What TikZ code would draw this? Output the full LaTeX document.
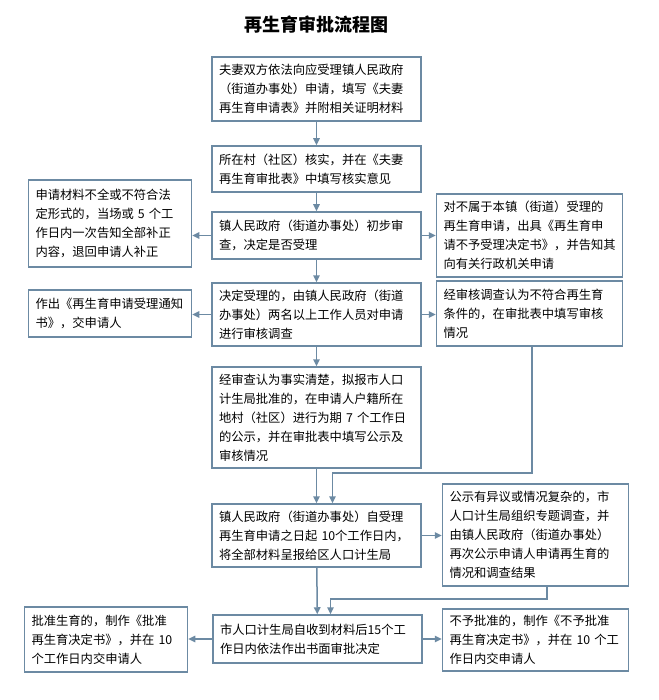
\documentclass[tikz,border=0pt]{standalone}
\usepackage{fontspec}
\setmainfont{Noto Sans CJK SC}
\usetikzlibrary{arrows.meta,positioning,calc}
\definecolor{boxline}{RGB}{108,138,163}

\begin{document}
\begin{tikzpicture}[x=1pt,y=-1pt,
    box/.style={draw=boxline, line width=1.5pt, fill=white, align=left,
      inner xsep=7pt, inner ysep=2pt, font=\fontsize{12.3}{19}\selectfont},
    mainbox/.style={box, text width=195pt},
    leftbox/.style={box, text width=149pt},
    rightbox/.style={box, text width=172pt},
    arr/.style={draw=boxline, line width=1.5pt, -{Triangle[length=7pt,width=6.5pt]}}]
    \fill[white] (0,0) rectangle (658,700);
    \useasboundingbox (0,0) rectangle (658,700);

    % title
    \node[font=\bfseries\fontsize{18}{20}\selectfont] (heading) at (316,25) {再生育审批流程图};

    % main column
    \node[mainbox, minimum height=64pt] (apply) at (316.5,89)
      {夫妻双方依法向应受理镇人民政府\\（街道办事处）申请，填写《夫妻\\再生育申请表》并附相关证明材料};
    \node[mainbox, minimum height=46pt] (verify) at (316.5,169)
      {所在村（社区）核实，并在《夫妻\\再生育审批表》中填写核实意见};
    \node[mainbox, minimum height=47pt] (prelim) at (316.5,235.5)
      {镇人民政府（街道办事处）初步审\\查，决定是否受理};
    \node[mainbox, minimum height=63pt] (survey) at (316.5,314.5)
      {决定受理的，由镇人民政府（街道\\办事处）两名以上工作人员对申请\\进行审核调查};
    \node[mainbox, minimum height=101pt] (publicity) at (316.5,417.5)
      {经审查认为事实清楚，拟报市人口\\计生局批准的，在申请人户籍所在\\地村（社区）进行为期 7 个工作日\\的公示，并在审批表中填写公示及\\审核情况};
    \node[mainbox, minimum height=63pt] (report) at (316.5,535.5)
      {镇人民政府（街道办事处）自受理\\再生育申请之日起 10个工作日内，\\将全部材料呈报给区人口计生局};
    \node[mainbox, minimum height=48pt] (decide) at (317.5,639)
      {市人口计生局自收到材料后15个工\\作日内依法作出书面审批决定};

    % left column
    \node[leftbox, minimum height=87pt] (supp) at (110,223.5)
      {申请材料不全或不符合法\\定形式的，当场或 5 个工\\作日内一次告知全部补正\\内容，退回申请人补正};
    \node[leftbox, minimum height=47pt] (notice) at (110,313.5)
      {作出《再生育申请受理通知\\书》，交申请人};
    \node[leftbox, minimum height=65pt] (approve) at (106,639.5)
      {批准生育的，制作《批准\\再生育决定书》，并在 10\\个工作日内交申请人};

    % right column
    \node[rightbox, minimum height=83pt] (reject) at (529.5,235.5)
      {对不属于本镇（街道）受理的\\再生育申请，出具《再生育申\\请不予受理决定书》，并告知其\\向有关行政机关申请};
    \node[rightbox, minimum height=65pt] (unfit) at (529.5,313.5)
      {经审核调查认为不符合再生育\\条件的，在审批表中填写审核\\情况};
    \node[rightbox, minimum height=102pt] (dispute) at (535.5,535)
      {公示有异议或情况复杂的，市\\人口计生局组织专题调查，并\\由镇人民政府（街道办事处）\\再次公示申请人申请再生育的\\情况和调查结果};
    \node[rightbox, minimum height=62pt] (deny) at (535.5,640)
      {不予批准的，制作《不予批准\\再生育决定书》，并在 10 个工\\作日内交申请人};

    % main flow
    \draw[arr] (apply) -- (verify);
    \draw[arr] (verify) -- (prelim);
    \draw[arr] (prelim) -- (survey);
    \draw[arr] (survey) -- (publicity);
    \draw[arr] (publicity) -- (report);
    \draw[arr] (report) -- (decide);

    % side branches
    \draw[arr] (prelim.west) -- (prelim.west -| supp.east);
    \draw[arr] (prelim.east) -- (prelim.east -| reject.west);
    \draw[arr] (survey.west) -- (survey.west -| notice.east);
    \draw[arr] (survey.east) -- (survey.east -| unfit.west);
    \draw[arr] (report.east) -- (report.east -| dispute.west);
    \draw[arr] (decide.west) -- (decide.west -| approve.east);
    \draw[arr] (decide.east) -- (decide.east -| deny.west);

    % return lines
    \coordinate (bendA) at (532,473);
    \coordinate (bendB) at (547,599);
    \draw[arr] (unfit.south -| bendA) -- (bendA) -| ($(report.north)+(16,0)$);
    \draw[arr] (dispute.south -| bendB) -- (bendB) -| ($(decide.north)+(13,0)$);
\end{tikzpicture}
\end{document}
